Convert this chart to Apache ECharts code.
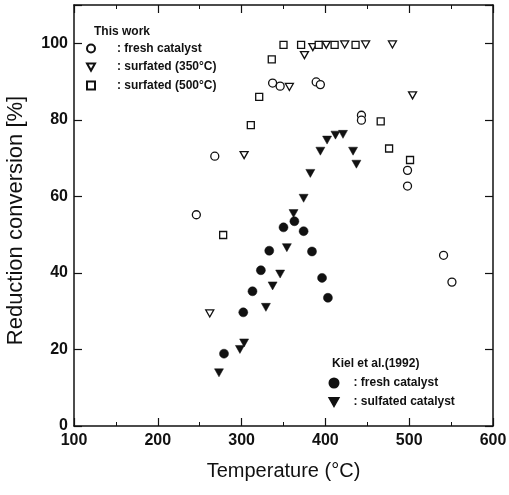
<!DOCTYPE html>
<html>
<head>
  <meta charset="UTF-8">
  <title>Reduction conversion</title>
  <script type="text/javascript" src="https://cdn.jsdelivr.net/npm/echarts@6/dist/echarts.min.js"></script>
  <style>
    html, body { margin: 0; padding: 0; background: #fff; }
    #chart { width: 509px; height: 495px; }
  </style>
</head>
<body>
<div id="chart"></div>
<script>
  // ============ data ============
  // [temperature (C), reduction conversion (%)]
  let freshThisWork = [
    [246, 55.2], [268, 70.5], [337, 89.6], [346, 88.8], [389, 89.9], [394, 89.2],
    [443, 81.2], [443, 79.9], [498, 66.8], [498, 62.7], [541, 44.6], [551, 37.6]
  ];
  let sulf350 = [
    [262, 29.4], [303, 70.8], [357, 88.6], [375, 96.9], [385, 99.0], [401, 99.6],
    [423, 99.7], [448, 99.7], [480, 99.7], [504, 86.4]
  ];
  let sulf500 = [
    [278, 49.9], [311, 78.6], [321, 86.0], [336, 95.8], [350, 99.6], [371, 99.6],
    [392, 99.6], [411, 99.6], [436, 99.6], [466, 79.6], [476, 72.5], [501, 69.5]
  ];
  let freshKiel = [
    [279, 18.9], [302, 29.7], [313, 35.2], [323, 40.7], [333, 45.8], [350, 51.9],
    [363, 53.5], [374, 50.9], [384, 45.6], [396, 38.7], [403, 33.5]
  ];
  let sulfKiel = [
    [273, 13.9], [298, 20.0], [303, 21.7], [329, 31.0], [337, 36.6], [346, 39.7],
    [354, 46.6], [362, 55.5], [374, 59.5], [382, 66.0], [394, 71.8], [402, 74.7],
    [412, 76.0], [421, 76.2], [433, 71.8], [437, 68.4]
  ];
  let xTicks = [100, 200, 300, 400, 500, 600];
  let yTicks = [0, 20, 40, 60, 80, 100];

  // legend texts
  let labels = {
    tw_fresh: ': fresh catalyst',
    tw_350: ': surfated (350°C)',
    tw_500: ': surfated (500°C)',
    k_fresh: ': fresh catalyst',
    k_sulf: ': sulfated catalyst'
  };

  let chart = echarts.init(document.getElementById('chart'), null, {renderer: 'canvas'});

  const FONT = '"Liberation Sans", Arial, sans-serif';
  const triDown = 'path://M0,0L10,0L5,9Z';
  const openStyle = {color: '#fff', borderColor: '#111', borderWidth: 1.3, opacity: 1};
  const fillStyle = {color: '#111', borderColor: '#111', borderWidth: 0.5, opacity: 1};

  function mkSeries(name, data, symbol, size, style) {
    return {
      name: name,
      type: 'scatter',
      data: data,
      symbol: symbol,
      symbolSize: size,
      itemStyle: style,
      xAxisIndex: 0,
      yAxisIndex: 0,
      emphasis: {disabled: true}
    };
  }

  function legendText(padLeft) {
    return {fontFamily: FONT, fontSize: 12, color: '#111', fontWeight: 'bold',
      lineHeight: 14, padding: [0, 0, 0, padLeft]};
  }

  let axisLabelStyle = {fontFamily: FONT, fontSize: 16, color: '#111', fontWeight: 'bold'};
  let edge = {show: true, onZero: false, lineStyle: {color: '#111', width: 1.5}};
  let tick = {show: true, inside: true, length: 8, lineStyle: {color: '#111', width: 1.2}};

  let option = {
    animation: false,
    backgroundColor: '#fff',
    grid: {left: 74, right: 16, top: 5, bottom: 69, containLabel: false, outerBoundsMode: 'none'},
    title: [
      {text: 'This work', left: 94, top: 25.5, padding: 0,
        textStyle: {fontFamily: FONT, fontSize: 12, fontWeight: 'bold', color: '#111'}},
      {text: 'Kiel et al.(1992)', left: 332, top: 358, padding: 0,
        textStyle: {fontFamily: FONT, fontSize: 12, fontWeight: 'bold', color: '#111'}}
    ],
    legend: [
      {
        data: ['tw_fresh', 'tw_350', 'tw_500'],
        orient: 'vertical', left: 86, top: 41.5,
        itemWidth: 8, itemHeight: 8, itemGap: 4.5, padding: 0,
        formatter: n => labels[n], textStyle: legendText(17),
        selectedMode: false
      },
      {
        data: ['k_fresh', 'k_sulf'],
        orient: 'vertical', left: 328.5, top: 376,
        itemWidth: 9, itemHeight: 9, itemGap: 5, padding: 0,
        formatter: n => labels[n], textStyle: legendText(10),
        selectedMode: false
      }
    ],
    xAxis: [
      {
        type: 'value', min: xTicks[0], max: xTicks[xTicks.length - 1], interval: 100,
        position: 'bottom',
        name: 'Temperature (°C)', nameLocation: 'middle', nameGap: 35,
        nameTextStyle: {fontFamily: FONT, fontSize: 20, color: '#111'},
        axisLine: edge, axisTick: tick,
        minorTick: {show: true, splitNumber: 2, length: 4, lineStyle: {color: '#111', width: 1}},
        axisLabel: Object.assign({margin: 7}, axisLabelStyle),
        splitLine: {show: false}
      },
      {
        type: 'value', min: xTicks[0], max: xTicks[xTicks.length - 1], interval: 100,
        position: 'top',
        axisLine: edge, axisTick: tick,
        minorTick: {show: true, splitNumber: 2, length: 4, lineStyle: {color: '#111', width: 1}},
        axisLabel: {show: false},
        splitLine: {show: false}
      }
    ],
    yAxis: [
      {
        type: 'value', min: yTicks[0], max: 110, interval: 20,
        position: 'left',
        name: 'Reduction conversion [%]', nameLocation: 'middle', nameGap: 47,
        nameMoveOverlap: false,
        nameTextStyle: {fontFamily: FONT, fontSize: 22, color: '#111', padding: [0, 10, 0, 0]},
        axisLine: edge, axisTick: tick,
        axisLabel: Object.assign({margin: 6, formatter: v => (v > yTicks[yTicks.length - 1] ? '' : String(v))}, axisLabelStyle),
        splitLine: {show: false}
      },
      {
        type: 'value', min: yTicks[0], max: 110, interval: 20,
        position: 'right',
        axisLine: edge, axisTick: tick,
        axisLabel: {show: false},
        splitLine: {show: false}
      }
    ],
    series: [
      mkSeries('tw_fresh', freshThisWork, 'circle', 8, openStyle),
      mkSeries('tw_350', sulf350, triDown, [8, 7], openStyle),
      mkSeries('tw_500', sulf500, 'rect', 7, openStyle),
      mkSeries('k_fresh', freshKiel, 'circle', 9, fillStyle),
      mkSeries('k_sulf', sulfKiel, triDown, [9, 8], fillStyle)
    ]
  };

  chart.setOption(option);
</script>
</body>
</html>
